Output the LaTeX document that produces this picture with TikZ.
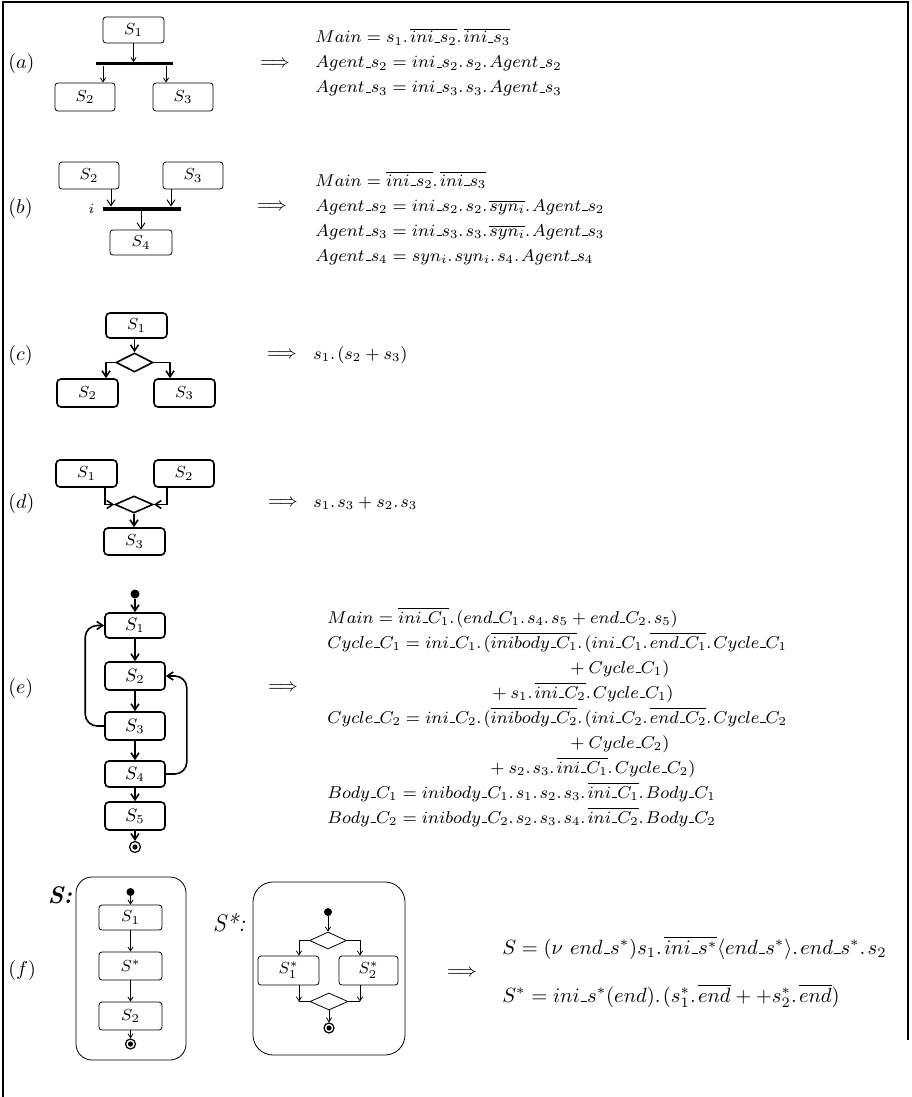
\RequirePackage{fix-cm}
\documentclass[tikz,border=0pt]{standalone}
\usepackage{amsmath}
\usetikzlibrary{positioning,shapes.geometric,arrows.meta}
\newcommand{\usc}{\kern.06em\vbox{\hrule width.3em}}
\newcommand{\pdot}{.\mkern2mu}

\begin{document}
\begin{tikzpicture}[
        x=0.5pt, y=-0.5pt,
        box/.style={
            draw,
            rounded corners=1.5pt,
            line width=0.4pt,
            inner sep=0pt,
            font=\footnotesize
        },
        heavybox/.style={
            box,
            line width=0.8pt,
            rounded corners=2pt
        },
        forkbar/.style={
            fill=black,
            inner sep=0pt
        },
        choice/.style={
            draw,
            diamond,
            inner sep=0pt,
            line width=0.8pt
        },
        thinchoice/.style={
            choice,
            line width=0.4pt
        },
        thinarrow/.style={
            line width=0.4pt,
            -{Straight Barb[length=2pt,width=2.6pt]}
        },
        openarrow/.style={
            line width=0.5pt,
            -{Straight Barb[length=3pt,width=4pt]}
        },
        heavyarrow/.style={
            line width=0.8pt,
            -{Straight Barb[length=3pt,width=4pt]}
        },
        initdot/.style={
            circle,
            fill=black,
            inner sep=0pt,
            minimum size=4.5pt
        },
        finaldot/.style={
            circle,
            draw,
            line width=0.6pt,
            inner sep=0pt,
            minimum size=5.5pt,
            path picture={\fill (path picture bounding box.center) circle (1.3pt);}
        },
        container/.style={
            draw,
            line width=0.4pt,
            rounded corners=8pt,
            inner sep=0pt
        },
        panel/.style={anchor=west, inner sep=0pt},
        implies/.style={font=\fontsize{9}{11}\selectfont},
        eqline/.style={anchor=base west, inner sep=0pt, font=\fontsize{8.6}{10}\selectfont},
        bigeqline/.style={eqline, font=\fontsize{10.3}{12}\selectfont}
    ]
    \useasboundingbox (0,0) rectangle (911,1097);
    \draw[line width=1pt] (3,1097) -- (3,2) -- (908,2) -- (908,1040);

    % (a)
    \node[panel] (la) at (8,64) {$(a)$};
    \node[box, minimum width=30.5pt, minimum height=13pt] (aS1) at (133.5,30) {$S_1$};
    \node[forkbar, minimum width=38.5pt, minimum height=1.5pt] (abar) at (134.5,64) {};
    \node[box, minimum width=30pt, minimum height=14pt] (aS2) at (85,97) {$S_2$};
    \node[box, minimum width=30pt, minimum height=14pt] (aS3) at (183,97) {$S_3$};
    \draw[thinarrow] (aS1.south) -- (aS1.south |- abar.north);
    \draw[thinarrow] ([xshift=9pt]aS2.north |- abar.south) -- ([xshift=9pt]aS2.north);
    \draw[thinarrow] ([xshift=-8.5pt]aS3.north |- abar.south) -- ([xshift=-8.5pt]aS3.north);
    \node[implies] (ia) at (275,64) {$\Longrightarrow$};
    \node[eqline] (ea1) at (315,43) {$Main = s_1\pdot\overline{ini\usc s_2}\pdot\overline{ini\usc s_3}$};
    \node[eqline] (ea2) at (315,68) {$Agent\usc s_2 = ini\usc s_2\pdot s_2\pdot Agent\usc s_2$};
    \node[eqline] (ea3) at (315,93) {$Agent\usc s_3 = ini\usc s_3\pdot s_3\pdot Agent\usc s_3$};

    % (b)
    \node[panel] (lb) at (8,208) {$(b)$};
    \node[box, minimum width=30pt, minimum height=13.5pt] (bS2) at (89,175.5) {$S_2$};
    \node[box, minimum width=30pt, minimum height=13.5pt] (bS3) at (193,175.5) {$S_3$};
    \node[forkbar, minimum width=39pt, minimum height=2pt] (bbar) at (142,209) {};
    \node[font=\scriptsize, inner sep=0pt, left=4pt of bbar] (bi) {$i$};
    \node[box, minimum width=31pt, minimum height=12.5pt] (bS4) at (141,242.5) {$S_4$};
    \draw[openarrow] ([xshift=11pt]bS2.south) -- ([xshift=11pt]bS2.south |- bbar.north);
    \draw[openarrow] ([xshift=-11pt]bS3.south) -- ([xshift=-11pt]bS3.south |- bbar.north);
    \draw[openarrow] (bbar.south -| bS4.north) -- (bS4.north);
    \node[implies] (ib) at (272,207) {$\Longrightarrow$};
    \node[eqline] (eb1) at (315,186) {$Main = \overline{ini\usc s_2}\pdot\overline{ini\usc s_3}$};
    \node[eqline] (eb2) at (315,211) {$Agent\usc s_2 = ini\usc s_2\pdot s_2\pdot\overline{syn_i}\pdot Agent\usc s_2$};
    \node[eqline] (eb3) at (315,236) {$Agent\usc s_3 = ini\usc s_3\pdot s_3\pdot\overline{syn_i}\pdot Agent\usc s_3$};
    \node[eqline] (eb4) at (315,261) {$Agent\usc s_4 = syn_i\pdot syn_i\pdot s_4\pdot Agent\usc s_4$};

    % (c)
    \node[panel] (lc) at (8,355) {$(c)$};
    \node[heavybox, minimum width=30.5pt, minimum height=12.5pt] (cS1) at (136.5,325.5) {$S_1$};
    \node[choice, minimum width=18.5pt, minimum height=9.5pt] (cD) at (134.5,362.5) {};
    \node[heavybox, minimum width=30.5pt, minimum height=14pt] (cS2) at (87.5,393) {$S_2$};
    \node[heavybox, minimum width=30.5pt, minimum height=14pt] (cS3) at (184.5,393) {$S_3$};
    \draw[heavyarrow] (cS1.south -| cD.north) -- (cD.north);
    \draw[heavyarrow] (cD.west) -| ([xshift=9.25pt]cS2.north);
    \draw[heavyarrow] (cD.east) -| ([xshift=-7.25pt]cS3.north);
    \node[implies] (ic) at (282,355) {$\Longrightarrow$};
    \node[eqline] (ec) at (313,359) {$s_1\pdot(s_2 + s_3)$};

    % (d)
    \node[panel] (ld) at (8,503) {$(d)$};
    \node[heavybox, minimum width=30.5pt, minimum height=13.5pt] (dS1) at (86.5,473.5) {$S_1$};
    \node[heavybox, minimum width=30pt, minimum height=13.5pt] (dS2) at (184,473.5) {$S_2$};
    \node[choice, minimum width=19pt, minimum height=8.5pt] (dD) at (134,504.5) {};
    \node[heavybox, minimum width=30.5pt, minimum height=13.5pt] (dS3) at (134.5,541.5) {$S_3$};
    \draw[heavyarrow] ([xshift=9.25pt]dS1.south) |- (dD.west);
    \draw[heavyarrow] ([xshift=-8.5pt]dS2.south) |- (dD.east);
    \draw[heavyarrow] (dD.south) -- (dD.south |- dS3.north);
    \node[implies] (id) at (283,503) {$\Longrightarrow$};
    \node[eqline] (ed) at (313,507) {$s_1\pdot s_3 + s_2\pdot s_3$};

    % (e)
    \node[panel] (le) at (8,688) {$(e)$};
    \node[initdot] (eI) at (135,594) {};
    \node[heavybox, minimum width=30pt, minimum height=12.5pt, font=\small] (eS1) at (135,625.5) {$S_1$};
    \node[heavybox, minimum width=30pt, minimum height=14pt, font=\small] (eS2) at (135,676) {$S_2$};
    \node[heavybox, minimum width=30pt, minimum height=14pt, font=\small] (eS3) at (135,726) {$S_3$};
    \node[heavybox, minimum width=30pt, minimum height=13pt, font=\small] (eS4) at (135,774) {$S_4$};
    \node[heavybox, minimum width=30pt, minimum height=14pt, font=\small] (eS5) at (135,816) {$S_5$};
    \node[finaldot] (eF) at (135,847) {};
    \foreach \a/\b in {eI/eS1, eS1/eS2, eS2/eS3, eS3/eS4, eS4/eS5, eS5/eF}
        \draw[heavyarrow] (\a) -- (\b);
    \draw[heavyarrow, rounded corners=6pt] (eS3.west) -- ++(-19,0) |- (eS1.west);
    \draw[heavyarrow, rounded corners=6pt] (eS4.east) -- ++(21,0) |- (eS2.east);
    \node[implies] (ie) at (283,688) {$\Longrightarrow$};
    \node[eqline] (ee1) at (327,623) {$Main = \overline{ini\usc C_1}\pdot(end\usc C_1\pdot s_4\pdot s_5 + end\usc C_2\pdot s_5)$};
    \node[eqline] (ee2) at (327,648) {$Cycle\usc C_1 = ini\usc C_1\pdot(\overline{inibody\usc C_1}\pdot(ini\usc C_1\pdot\overline{end\usc C_1}\pdot Cycle\usc C_1$};
    \node[eqline] (ee3) at (566,673) {${}+Cycle\usc C_1)$};
    \node[eqline] (ee4) at (488,698) {${}+s_1\pdot\overline{ini\usc C_2}\pdot Cycle\usc C_1)$};
    \node[eqline] (ee5) at (327,723) {$Cycle\usc C_2 = ini\usc C_2\pdot(\overline{inibody\usc C_2}\pdot(ini\usc C_2\pdot\overline{end\usc C_2}\pdot Cycle\usc C_2$};
    \node[eqline] (ee6) at (566,748) {${}+Cycle\usc C_2)$};
    \node[eqline] (ee7) at (486,773) {${}+s_2\pdot s_3\pdot\overline{ini\usc C_1}\pdot Cycle\usc C_2)$};
    \node[eqline] (ee8) at (327,798) {$Body\usc C_1 = inibody\usc C_1\pdot s_1\pdot s_2\pdot s_3\pdot\overline{ini\usc C_1}\pdot Body\usc C_1$};
    \node[eqline] (ee9) at (327,823) {$Body\usc C_2 = inibody\usc C_2\pdot s_2\pdot s_3\pdot s_4\pdot\overline{ini\usc C_2}\pdot Body\usc C_2$};

    % (f)
    \node[panel] (lf) at (8,970) {$(f)$};
    \node[font=\large\bfseries\itshape] (fname) at (60,895) {S:};
    \node[container, minimum width=55pt, minimum height=91.5pt] (fbox) at (131,968.5) {};
    \node[initdot, minimum size=4pt] (fI) at (130.5,892) {};
    \node[box, minimum width=31.5pt, minimum height=12.5pt] (fS1) at (130.5,917.5) {$S_1$};
    \node[box, minimum width=31.5pt, minimum height=14pt] (fSs) at (130.5,966) {$S^*$};
    \node[box, minimum width=31.5pt, minimum height=14pt] (fS2) at (130.5,1016) {$S_2$};
    \node[finaldot, minimum size=5pt] (fF) at (130.5,1044) {};
    \foreach \a/\b in {fI/fS1, fS1/fSs, fSs/fS2, fS2/fF}
        \draw[thinarrow] (\a) -- (\b);

    \node[font=\large\itshape] (gname) at (229,923) {S*:};
    \node[container, rounded corners=10pt, minimum width=76pt, minimum height=86.5pt] (gbox) at (329,968.5) {};
    \node[initdot, minimum size=4pt] (gI) at (328,912) {};
    \node[thinchoice, minimum width=18.5pt, minimum height=8.5pt] (gD1) at (328,940.5) {};
    \node[box, minimum width=30.5pt, minimum height=14.5pt] (gS1) at (288.5,970.5) {$S_1^*$};
    \node[box, minimum width=29.5pt, minimum height=14.5pt] (gS2) at (368.5,970.5) {$S_2^*$};
    \node[thinchoice, minimum width=19pt, minimum height=8.5pt] (gD2) at (329,1001.5) {};
    \node[finaldot, minimum size=5pt] (gF) at (329,1028) {};
    \draw[thinarrow] (gI) -- (gD1.north);
    \draw[thinarrow] (gD1.west) -| ([xshift=5.25pt]gS1.north);
    \draw[thinarrow] (gD1.east) -| ([xshift=-4.25pt]gS2.north);
    \draw[thinarrow] ([xshift=5.25pt]gS1.south) -- ([xshift=5.25pt]gS1.south |- gD2.west);
    \draw[line width=0.4pt] ([xshift=5.25pt]gS1.south |- gD2.west) -- (gD2.west);
    \draw[thinarrow] ([xshift=-4.25pt]gS2.south) -- ([xshift=-4.25pt]gS2.south |- gD2.east);
    \draw[line width=0.4pt] ([xshift=-4.25pt]gS2.south |- gD2.east) -- (gD2.east);
    \draw[thinarrow] (gD2.south) -- (gF.north);
    \node[implies] (if) at (462,973) {$\Longrightarrow$};
    \node[bigeqline] (ef1) at (502,954) {$S = (\nu\ end\usc s^*)s_1\pdot\overline{ini\usc s^*}\langle end\usc s^*\rangle\pdot end\usc s^*\pdot s_2$};
    \node[bigeqline] (ef2) at (502,1002) {$S^* = ini\usc s^*(end)\pdot(s_1^*\pdot\overline{end} + +s_2^*\pdot\overline{end})$};
\end{tikzpicture}
\end{document}
